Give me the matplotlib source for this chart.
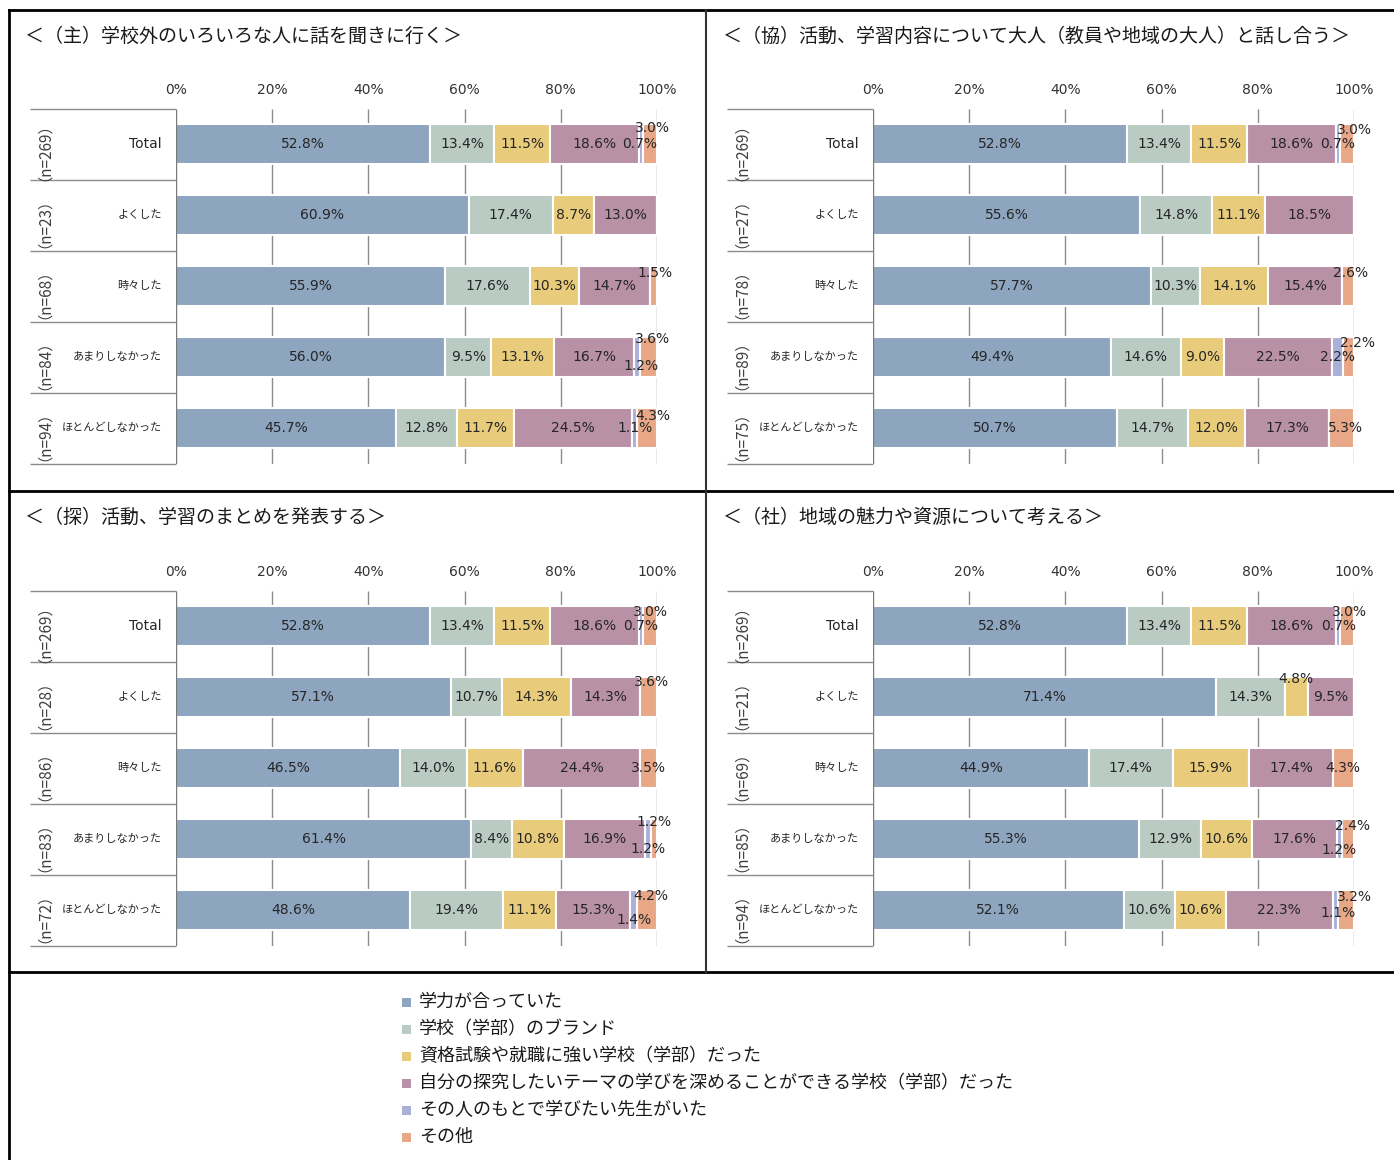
import matplotlib.pyplot as plt
from matplotlib.lines import Line2D
from matplotlib.patches import Rectangle

W, H = 1394, 1160

CATEGORIES = ["Total", "よくした", "時々した", "あまりしなかった", "ほとんどしなかった"]

SERIES = [
    "学力が合っていた",
    "学校（学部）のブランド",
    "資格試験や就職に強い学校（学部）だった",
    "自分の探究したいテーマの学びを深めることができる学校（学部）だった",
    "その人のもとで学びたい先生がいた",
    "その他",
]
COLORS = ["#8EA5C0", "#B9CBC3", "#E9CC7B", "#B991A7", "#AAB0D8", "#E8A888"]

TITLES = [
    "＜（主）学校外のいろいろな人に話を聞きに行く＞",
    "＜（協）活動、学習内容について大人（教員や地域の大人）と話し合う＞",
    "＜（探）活動、学習のまとめを発表する＞",
    "＜（社）地域の魅力や資源について考える＞",
]

shu_n = [269, 23, 68, 84, 94]
shu_values = [
    [52.8, 13.4, 11.5, 18.6, 0.7, 3.0],
    [60.9, 17.4, 8.7, 13.0, 0.0, 0.0],
    [55.9, 17.6, 10.3, 14.7, 0.0, 1.5],
    [56.0, 9.5, 13.1, 16.7, 1.2, 3.6],
    [45.7, 12.8, 11.7, 24.5, 1.1, 4.3],
]

kyo_n = [269, 27, 78, 89, 75]
kyo_values = [
    [52.8, 13.4, 11.5, 18.6, 0.7, 3.0],
    [55.6, 14.8, 11.1, 18.5, 0.0, 0.0],
    [57.7, 10.3, 14.1, 15.4, 0.0, 2.6],
    [49.4, 14.6, 9.0, 22.5, 2.2, 2.2],
    [50.7, 14.7, 12.0, 17.3, 0.0, 5.3],
]

tan_n = [269, 28, 86, 83, 72]
tan_values = [
    [52.8, 13.4, 11.5, 18.6, 0.7, 3.0],
    [57.1, 10.7, 14.3, 14.3, 0.0, 3.6],
    [46.5, 14.0, 11.6, 24.4, 0.0, 3.5],
    [61.4, 8.4, 10.8, 16.9, 1.2, 1.2],
    [48.6, 19.4, 11.1, 15.3, 1.4, 4.2],
]

sha_n = [269, 21, 69, 85, 94]
sha_values = [
    [52.8, 13.4, 11.5, 18.6, 0.7, 3.0],
    [71.4, 14.3, 4.8, 9.5, 0.0, 0.0],
    [44.9, 17.4, 15.9, 17.4, 0.0, 4.3],
    [55.3, 12.9, 10.6, 17.6, 1.2, 2.4],
    [52.1, 10.6, 10.6, 22.3, 1.1, 3.2],
]

# hand-placed labels for thin segments: (row, series) -> (x, y offset in rows)
SPOTS = [
    {(0, 4): (96.4, 0.0), (0, 5): (99.1, -0.23), (2, 5): (99.5, -0.18),
     (3, 4): (96.6, 0.12), (3, 5): (99.0, -0.25),
     (4, 4): (95.4, 0.0), (4, 5): (99.1, -0.17)},
    {(0, 4): (96.6, 0.0), (0, 5): (100.1, -0.2), (2, 5): (99.3, -0.18),
     (3, 4): (96.6, 0.0), (3, 5): (100.7, -0.2), (4, 5): (98.3, 0.0)},
    {(0, 4): (96.6, 0.0), (0, 5): (98.7, -0.2), (1, 5): (98.9, -0.21),
     (3, 4): (98.2, 0.14), (3, 5): (99.4, -0.24),
     (4, 4): (95.2, 0.14), (4, 5): (98.8, -0.2)},
    {(0, 4): (96.7, 0.0), (0, 5): (99.0, -0.2), (1, 2): (87.9, -0.25),
     (3, 4): (96.9, 0.15), (3, 5): (99.6, -0.19),
     (4, 4): (96.6, 0.04), (4, 5): (100.0, -0.18)},
]

PANELS = [
    (shu_n, shu_values, 25, 36, 176, 108.5),
    (kyo_n, kyo_values, 723, 36, 873, 108.5),
    (tan_n, tan_values, 25, 517, 176, 590.5),
    (sha_n, sha_values, 723, 517, 873, 590.5),
]

JP = ["Noto Sans CJK JP", "DejaVu Sans"]
plt.rcParams["font.family"] = ["DejaVu Sans", "Noto Sans CJK JP"]

AX_W, AX_H = 481, 355
TABLE_W = 146      # width of the category table left of each axes
GRID = "#8C8C8C"
TEXT = "#262626"


def fx(x):
    return x / W


def fy(y):
    return 1 - y / H


fig = plt.figure(figsize=(W / 100, H / 100), dpi=100)

for k, (counts, values, tx, ty, ax_x, ax_y) in enumerate(PANELS):
    fig.text(fx(tx), fy(ty), TITLES[k], fontsize=13.7, family=JP,
             ha="left", va="center", color="#1a1a1a")

    ax = fig.add_axes([fx(ax_x), fy(ax_y + AX_H), AX_W / W, AX_H / H])
    ax.set_xlim(0, 100)
    ax.set_ylim(len(CATEGORIES), 0)
    for s in ax.spines.values():
        s.set_visible(False)
    ax.set_yticks([])
    ax.xaxis.tick_top()
    ax.set_xticks([0, 20, 40, 60, 80, 100])
    ax.set_xticklabels([f"{t}%" for t in range(0, 101, 20)])
    ax.tick_params(axis="x", length=0, pad=8, labelsize=10, colors="#333333")

    ax.vlines([20, 40, 60, 80, 100], 0, len(CATEGORIES), color=GRID, lw=1, zorder=0)
    ax.vlines([0], 0, len(CATEGORIES), color="#7a7a7a", lw=1, zorder=3)

    # category table on the left
    yax = ax.get_yaxis_transform()
    ax.hlines(range(len(CATEGORIES) + 1), -TABLE_W / AX_W, 0,
              transform=yax, color=GRID, lw=1, clip_on=False)

    ys = [i + 0.5 for i in range(len(CATEGORIES))]
    for i, cat in enumerate(CATEGORIES):
        is_ascii = cat.isascii()
        ax.text(-14 / AX_W, ys[i], cat, transform=yax, ha="right", va="center",
                fontsize=10 if is_ascii else 8, color=TEXT,
                family=["DejaVu Sans"] if is_ascii else JP)
        ax.text(-140 / AX_W, ys[i], f"（n={counts[i]}）", transform=yax,
                ha="center", va="center", rotation=90, fontsize=11,
                family="Noto Sans CJK JP", color="#404040")

    lefts = [0.0] * len(CATEGORIES)
    for j, color in enumerate(COLORS):
        widths = [row[j] for row in values]
        ax.barh(ys, widths, left=lefts, height=0.55, color=color,
                edgecolor="white", linewidth=1.5, zorder=2)
        for i, v in enumerate(widths):
            if v == 0:
                continue
            x, dy = SPOTS[k].get((i, j), (lefts[i] + v / 2, 0.0))
            ax.text(x, ys[i] + dy, f"{v:.1f}%", ha="center", va="center",
                    fontsize=10, color=TEXT, zorder=4, clip_on=False)
        lefts = [a + b for a, b in zip(lefts, widths)]

# frame lines around the four panels and the legend box
frame = dict(color="black", lw=2, transform=fig.transFigure)
fig.add_artist(Line2D([fx(9), 1], [fy(10), fy(10)], **frame))
fig.add_artist(Line2D([fx(9), fx(9)], [fy(10), 0], **frame))
fig.add_artist(Line2D([fx(9), 1], [fy(491), fy(491)], **frame))
fig.add_artist(Line2D([fx(9), 1], [fy(972), fy(972)], **frame))
fig.add_artist(Line2D([fx(706), fx(706)], [fy(10), fy(972)], color="#333333",
                      lw=1.5, transform=fig.transFigure))

# legend
for i, (label, color) in enumerate(zip(SERIES, COLORS)):
    yc = 1002 + 27 * i
    fig.add_artist(Rectangle((fx(402), fy(yc + 4.5)), 9 / W, 9 / H,
                             facecolor=color, edgecolor="none",
                             transform=fig.transFigure))
    fig.text(fx(419), fy(yc), label, fontsize=13, family=JP,
             ha="left", va="center", color="#1a1a1a")

fig.savefig("out.png", dpi=100, facecolor="white")
